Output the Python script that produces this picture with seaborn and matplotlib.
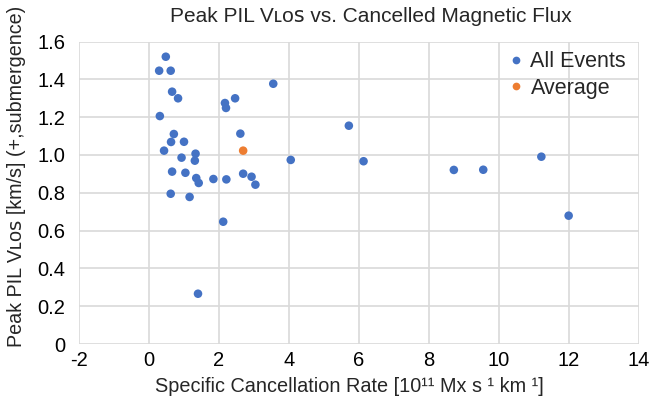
import matplotlib
matplotlib.use("Agg")
import matplotlib.pyplot as plt
import seaborn as sns
import pandas as pd

# ---- data ----
events_x = [0.48, 0.29, 0.62, 0.66, 0.83, 0.31, 0.71, 0.63, 1.00, 0.43,
            1.33, 0.93, 1.31, 0.66, 1.04, 1.35, 1.42, 1.84, 2.21, 2.69,
            2.93, 3.04, 0.62, 1.16, 2.17, 2.20, 2.46, 2.61, 3.55, 4.05,
            2.12, 1.40, 5.71, 6.13, 8.71, 9.55, 11.21, 11.99]
events_y = [1.52, 1.446, 1.446, 1.335, 1.30, 1.206, 1.111, 1.069, 1.07, 1.023,
            1.007, 0.986, 0.97, 0.912, 0.906, 0.878, 0.852, 0.873, 0.871, 0.901,
            0.885, 0.843, 0.795, 0.778, 1.275, 1.249, 1.30, 1.113, 1.377, 0.974,
            0.647, 0.266, 1.155, 0.967, 0.921, 0.922, 0.991, 0.679]
avg_x = [2.69]
avg_y = [1.023]
series_names = ["All Events", "Average"]
x_ticks = [-2, 0, 2, 4, 6, 8, 10, 12, 14]
y_ticks = [0, 0.2, 0.4, 0.6, 0.8, 1.0, 1.2, 1.4, 1.6]

df = pd.DataFrame({
    "x": events_x + avg_x,
    "y": events_y + avg_y,
    "series": [series_names[0]] * len(events_x) + [series_names[1]] * len(avg_x),
})

sns.set_style("white")
plt.rcParams["font.family"] = ["Liberation Sans", "DejaVu Sans"]

fig = plt.figure(figsize=(6.53, 4.09), dpi=100)
ax = fig.add_axes([79 / 653, 1 - 344 / 409, (639 - 79) / 653, (344 - 41.6) / 409])

palette = {"All Events": "#4472C4", "Average": "#ED7D31"}
sns.scatterplot(data=df, x="x", y="y", hue="series", palette=palette,
                s=38, edgecolor="none", linewidth=0, ax=ax, zorder=3)

ax.set_xlim(-2, 14)
ax.set_ylim(0, 1.6)
ax.set_xticks(x_ticks)
ax.set_xticklabels([str(t) for t in x_ticks])
ax.set_yticks(y_ticks)
ax.set_yticklabels(["0"] + [f"{t:.1f}" for t in y_ticks[1:]])
ax.grid(True, color="#d9d9d9", linewidth=1.2, zorder=0)
ax.set_axisbelow(True)
for s in ax.spines.values():
    s.set_visible(False)
ax.tick_params(axis="both", length=0, labelsize=14.5, colors="#000000")
ax.tick_params(axis="y", pad=10)
ax.tick_params(axis="x", pad=5)
ax.set_xlabel("")
ax.set_ylabel("")

leg = ax.legend(loc="upper right", frameon=False, fontsize=15.5,
                handletextpad=0.15, handlelength=1.0, borderaxespad=0.2,
                labelspacing=0.25, markerscale=0.9, bbox_to_anchor=(1.0, 1.01))

small = "\u029f\u1d0f\ua731"
fig.text(371 / 653, 1 - 17 / 409, "Peak PIL V" + small + " vs. Cancelled Magnetic Flux",
         ha="center", va="center", fontsize=15)
fig.text(349 / 653, 1 - 386 / 409,
         "Specific Cancellation Rate [10\u00b9\u00b9 Mx s \u00b9 km \u00b9]",
         ha="center", va="center", fontsize=14.3)
fig.text(17 / 653, 1 - 176 / 409, "Peak PIL V" + small + " [km/s] (+,submergence)",
         ha="center", va="center", rotation=90, fontsize=14.2)

fig.savefig("out.png", dpi=100)
